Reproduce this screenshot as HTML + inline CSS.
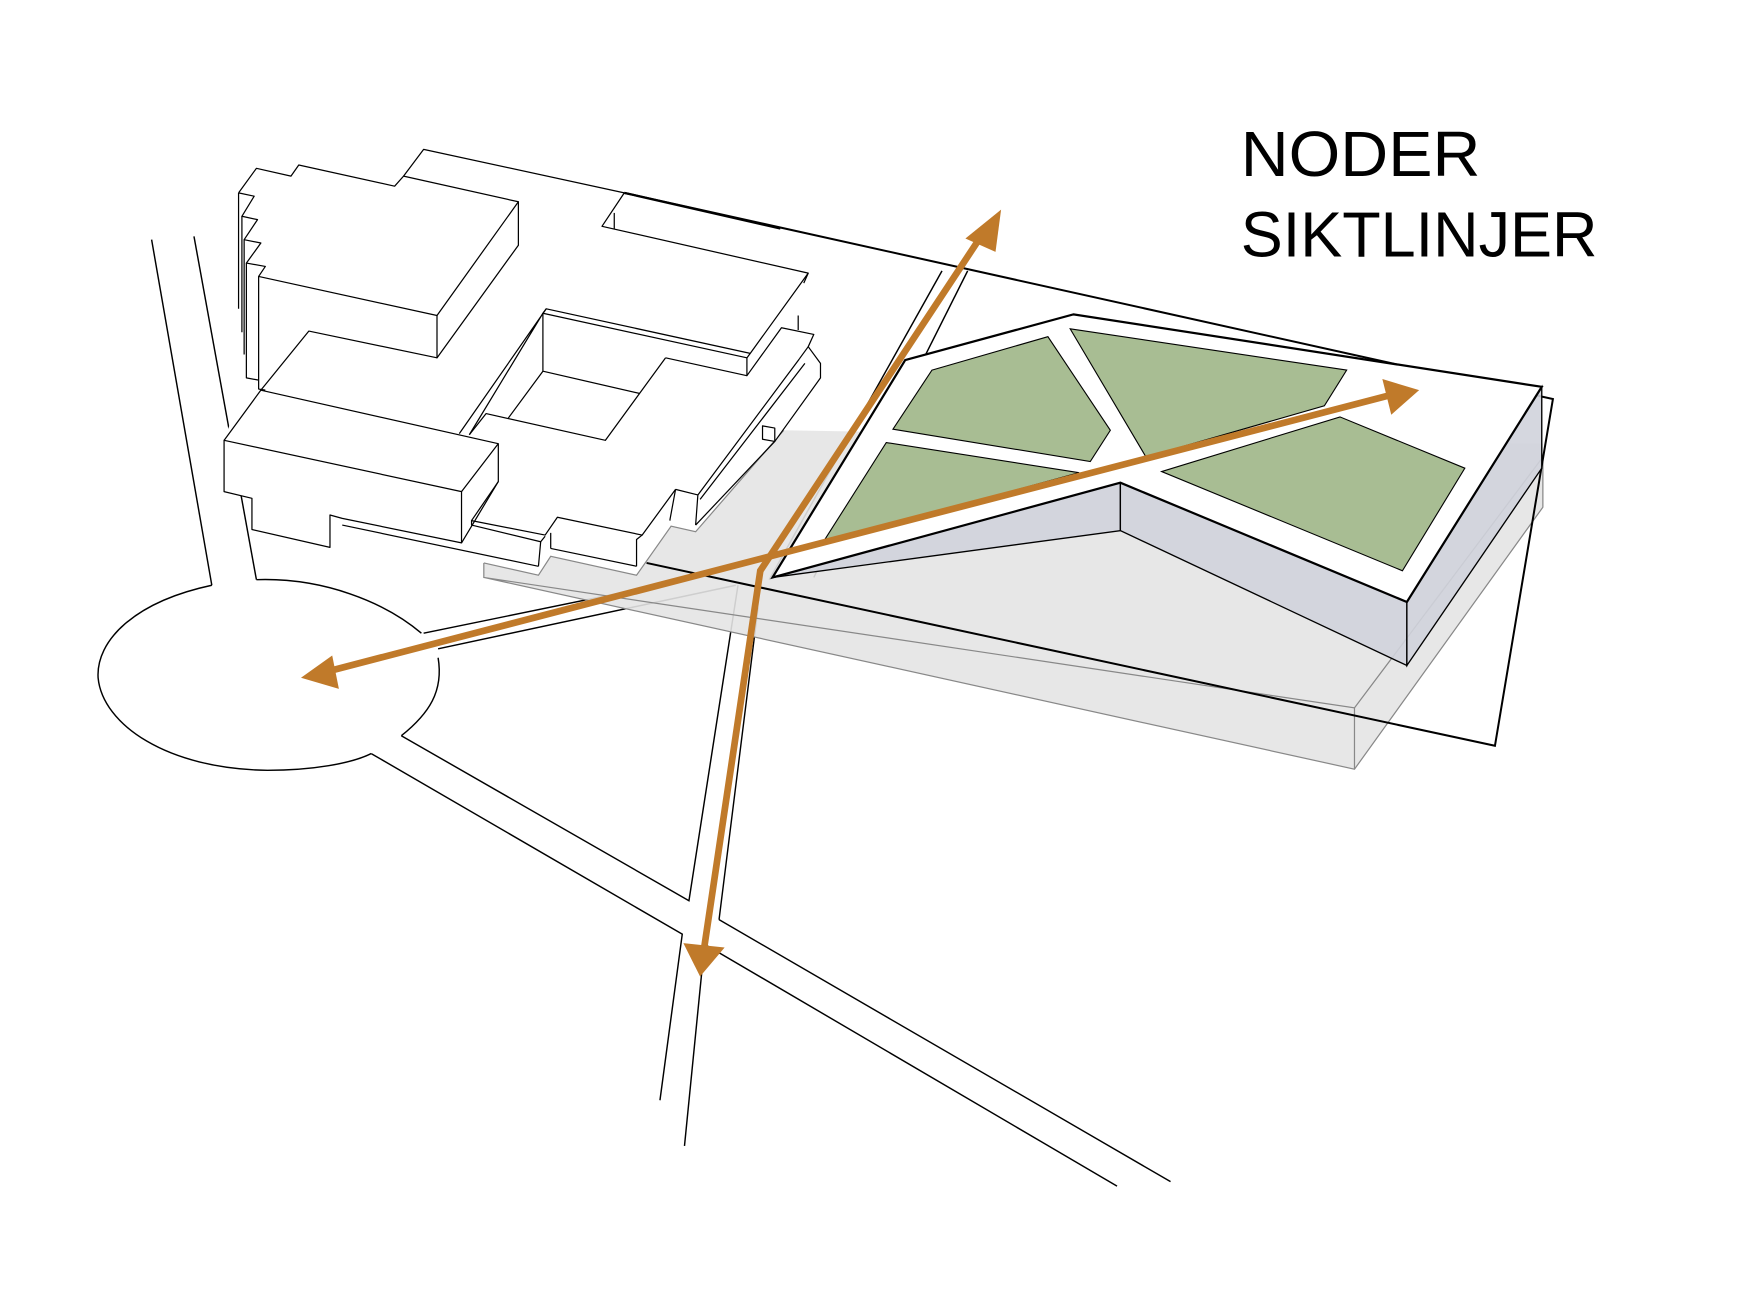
<!DOCTYPE html>
<html><head><meta charset="utf-8"><style>
html,body{margin:0;padding:0;background:#fff;}
svg{display:block;}
</style></head><body>
<svg width="1748" height="1292" viewBox="0 0 1568 1159" preserveAspectRatio="none" xmlns="http://www.w3.org/2000/svg">
<rect width="1568" height="1159" fill="#fff"/>
<g fill="none" stroke="#000" stroke-width="1.3">
<!-- roads -->
<path d="M136,215 L190,525"/>
<path d="M174,212 L230,520"/>
<path d="M230,520 C290,518 345,540 378,568"/>
<path d="M190,525 C120,540 86,575 88,608 C92,650 150,690 240,691 C280,691 315,685 333,676"/>
<path d="M360,660 C385,640 398,620 393,590"/>
<path d="M380,568 L580,527"/>
<path d="M393,582 L660,525"/>
<path d="M333,676 L612,838 L592,987"/>
<path d="M360,660 L618,808 L662,525"/>
<path d="M645,825 L1050,1060"/>
<path d="M632,847 L1002,1064"/>
<path d="M645,825 L680,545"/>
<path d="M632,847 L614,1028"/>
<path d="M690,520 L845,243"/>
<path d="M730,518 L868,243"/>
</g>
<!-- gray slab -->
<path d="M434,505 L483,516 L494,499 L571,516 L602,472 L624,477 L703,386 L1384,398 L1384,410 L1215,635 L434,518 Z" fill="#e4e4e4" fill-opacity="0.9" stroke="none"/>
<path d="M434,505 L483,516 L494,499 L571,516 L602,472 L624,477 L703,386" fill="none" stroke="#888" stroke-width="1.1"/>
<path d="M434,505 L434,518 L1215,635 L1384,410 L1384,455 L1215,690 L434,518" fill="#e4e4e4" fill-opacity="0.9" stroke="#888" stroke-width="1.1"/>
<path d="M1215,635 L1215,690" stroke="#888" stroke-width="1.1"/>
<!-- site plane -->
<path d="M560,173 L1393,358 L1341,669 L580,505" fill="none" stroke="#000" stroke-width="1.8"/>
<!-- old building silhouette -->
<path d="M214,173 L230,151 L261,158 L268,148 L354,167 L362,158 L380,134 L560,173 L540,203 L725,245 L721,254 L716,296 L730,300 L725,311 L736,326 L736,339 L695,396 L684,394 L624,471 L601,467 L571,508 L494,492 L483,508 L307,471 L307,465 L296,462 L296,491 L226,475 L226,447 L201,441 L201,395 L221,339 L214,277 Z" fill="#fff" stroke="none"/>
<g fill="none" stroke="#000" stroke-width="1.1" stroke-linejoin="round">
<path d="M214,173 L230,151 L261,158 L268,148 L354,167 L362,158 L465,181 L392,283 L232,248 L238,239 L221,236 L234,218 L219,215 L231,197 L217,194 L228,176 L214,173"/>
<path d="M362,158 L380,134 L560,173"/>
<path d="M214,173 L214,277 M217,194 L217,298 M219,215 L219,318 M221,236 L221,339 L232,341 M232,248 L232,349 L238,350"/>
<path d="M392,283 L392,321 L465,220 L465,181"/>
<path d="M560,173 L540,203 L725,245 L673,317 L490,277 L487,281 L670,321 L673,317"/>
<path d="M551,191 L551,205"/>
<path d="M670,321 L670,337 L701,294 L730,300 L725,311 L736,326 L736,339 L695,396"/>
<path d="M725,245 L721,254 M716,283 L716,296"/>
<path d="M717,322 L725,311"/>
<path d="M684,382 L695,384 L695,396 L684,394 Z"/>
<path d="M490,277 L412,389 M487,281 L421,390"/>
<path d="M487,281 L487,333 L574,353 M487,333 L456,375"/>
<path d="M597,321 L670,337 M597,321 L543,395 L436,371 L421,390"/>
<path d="M717,322 L626,444 M722,326 L628,448"/>
<path d="M606,439 L626,444 L624,471 M606,439 L576,480 L500,464 L489,480 L423,467 L423,471 L485,486 L489,481"/>
<path d="M606,439 L601,466 L601,467 M576,480 L571,484 L571,508 M485,486 L483,508 M494,478 L494,492"/>
<path d="M624,471 L695,396"/>
<path d="M201,395 L234,350 L277,297 L392,321"/>
<path d="M234,350 L447,398 L414,441 L201,395 L201,441 L226,447 L226,475 L296,491 L296,462 L307,465 L414,487 L414,441"/>
<path d="M447,398 L447,432 L414,487"/>
<path d="M307,471 L483,508 M494,492 L571,508"/>
<path d="M423,467 L447,432"/>
</g>
<path d="M560,173 L700,205" stroke="#000" stroke-width="2"/>
<!-- new building -->
<path d="M693,518 L1005,433 L1005,476 Z" fill="#d0d3dc" fill-opacity="0.9" stroke="#000" stroke-width="1.2"/>
<path d="M1005,433 L1262,540 L1262,597 L1005,476 Z" fill="#d0d3dc" fill-opacity="0.9" stroke="#000" stroke-width="1.2"/>
<path d="M1262,540 L1383,347 L1383,420 L1262,597 Z" fill="#d0d3dc" fill-opacity="0.9" stroke="#000" stroke-width="1.2"/>
<path d="M812,323 L963,282 L1383,347 L1262,540 L1005,433 L693,518 Z" fill="#fff" stroke="#000" stroke-width="2"/>
<g fill="#a8bd93" stroke="#000" stroke-width="1">
<path d="M836,332 L940,302 L996,386 L978,414 L801,385 Z"/>
<path d="M960,295 L1208,332 L1188,364 L1028,410 Z"/>
<path d="M795,397 L968,424 L738,487 Z"/>
<path d="M1042,423 L1202,374 L1314,420 L1258,512 Z"/>
</g>
<!-- orange arrows -->
<g stroke="#c07a2a" stroke-width="6" fill="none" stroke-linecap="round">
<path d="M682,512 L878,215"/>
<path d="M682,512 L632,848"/>
<path d="M295,602 L1245,355"/>
</g>
<g fill="#c07a2a">
<path d="M898,188 L866,214 L893,226 Z"/>
<path d="M628,876 L613,846 L650,850 Z"/>
<path d="M270,608 L298,588 L304,618 Z"/>
<path d="M1273,350 L1240,340 L1248,372 Z"/>
</g>
<text x="1113" y="158" font-family="Liberation Sans, sans-serif" font-size="57" textLength="215" lengthAdjust="spacingAndGlyphs" fill="#000">NODER</text>
<text x="1113" y="230" font-family="Liberation Sans, sans-serif" font-size="57" textLength="320" lengthAdjust="spacingAndGlyphs" fill="#000">SIKTLINJER</text>
</svg>
</body></html>
